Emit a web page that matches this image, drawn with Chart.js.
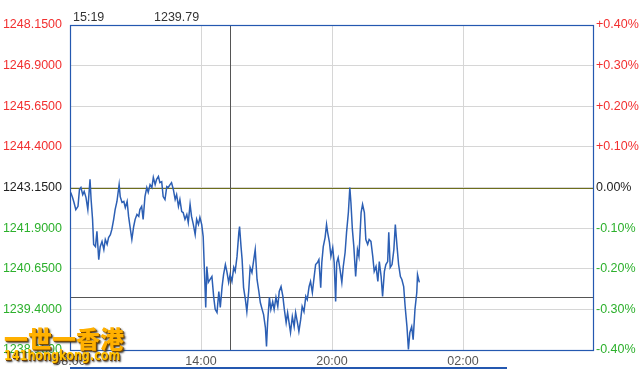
<!DOCTYPE html>
<html>
<head>
<meta charset="utf-8">
<title>Intraday</title>
<script src="https://cdn.jsdelivr.net/npm/chart.js@4.4.1/dist/chart.umd.min.js"></script>
<style>
    body { margin: 0; background: #fff; }
    #wrap { position: relative; width: 642px; height: 370px; overflow: hidden; }
    #chart { display: block; }
    .wm1 {
        position: absolute; left: 4px; top: 324px;
        font: 900 24px "Noto Sans CJK SC", sans-serif; color: #ffb000;
        text-shadow: 1px 1px 0 #7a4a00, 2px 2px 2px #333;
        line-height: 28px;
    }
    .wm2 {
        position: absolute; left: 4px; top: 346px;
        font: bold 14px "DejaVu Sans", sans-serif; color: #ffc000;
        text-shadow: 1px 1px 0 #6a3a00, 2px 2px 2px #333;
        line-height: 18px;
        transform: scaleX(0.8); transform-origin: 0 0;
    }
</style>
</head>
<body>
<div id="wrap">
    <canvas id="chart" width="642" height="370"></canvas>
    <div class="wm1">一世一香港</div>
    <div class="wm2">141hongkong.com</div>
</div>
<script>
// minutes after 08:00, price
const minutes = [
    2, 7, 11, 16, 22, 26, 30, 35, 39, 44, 49, 55, 58, 62, 65, 70, 74, 79, 83, 88,
    93, 97, 102, 106, 111, 115, 120, 124, 129, 135, 138, 143, 148, 152, 157, 161, 166, 170, 175, 179,
    184, 189, 192, 197, 201, 206, 211, 215, 220, 225, 229, 234, 238, 243, 247, 252, 256, 261, 266, 270,
    275, 279, 284, 289, 293, 298, 302, 307, 311, 316, 321, 325, 330, 334, 339, 344, 348, 353, 357, 362,
    366, 369, 371, 373, 376, 380, 385, 390, 395, 399, 404, 409, 413, 418, 422, 427, 431, 436, 440, 445,
    450, 454, 459, 464, 466, 470, 473, 477, 482, 486, 491, 495, 500, 505, 509, 514, 519, 523, 528, 532,
    537, 540, 543, 548, 552, 557, 561, 566, 571, 575, 580, 585, 589, 594, 598, 602, 606, 611, 616, 620,
    625, 629, 634, 638, 643, 648, 652, 657, 661, 666, 671, 675, 680, 684, 689, 692, 696, 701, 705, 708,
    713, 717, 722, 726, 730, 733, 737, 742, 747, 751, 756, 760, 765, 769, 772, 776, 780, 785, 790, 794,
    800, 804, 809, 813, 818, 822, 827, 832, 836, 841, 846, 850, 855, 859, 864, 868, 873, 876, 880, 885,
    890, 894, 899, 903, 908, 912, 917, 921, 926, 930, 934, 939, 943, 948, 953, 955, 960
];

const prices = [
    1243.00, 1242.84, 1242.69, 1242.47, 1242.57, 1243.09, 1243.15, 1242.93, 1243.03, 1242.84,
    1242.47, 1243.40, 1242.78, 1242.17, 1241.40, 1241.33, 1241.80, 1240.93, 1241.33, 1241.49,
    1241.24, 1241.55, 1241.40, 1241.61, 1241.70, 1241.86, 1242.17, 1242.47, 1242.72, 1243.24,
    1242.87, 1242.69, 1242.72, 1242.53, 1242.72, 1242.26, 1241.86, 1241.55, 1241.95, 1242.17,
    1242.32, 1242.26, 1242.47, 1242.57, 1242.17, 1242.87, 1243.15, 1243.00, 1243.24, 1243.15,
    1243.46, 1243.24, 1243.40, 1243.49, 1243.30, 1243.33, 1242.87, 1242.78, 1243.18, 1243.15,
    1243.24, 1243.30, 1243.09, 1242.78, 1242.93, 1242.57, 1242.78, 1242.41, 1242.38, 1242.17,
    1242.32, 1242.07, 1242.63, 1242.26, 1242.01, 1241.70, 1242.17, 1242.01, 1242.23, 1242.01,
    1241.64, 1240.72, 1240.10, 1239.46, 1240.72, 1240.23, 1240.32, 1240.41, 1239.77, 1239.40,
    1239.30, 1239.95, 1239.46, 1240.10, 1240.47, 1240.78, 1240.57, 1240.23, 1240.47, 1240.26,
    1240.69, 1240.57, 1241.03, 1241.77, 1241.95, 1241.33, 1240.93, 1240.07, 1239.70, 1239.33,
    1239.95, 1240.69, 1240.53, 1240.93, 1241.24, 1240.32, 1239.95, 1239.61, 1239.40, 1239.24,
    1238.84, 1238.26, 1238.99, 1239.77, 1239.40, 1239.64, 1239.40, 1239.77, 1239.49, 1239.95,
    1240.10, 1239.80, 1239.40, 1238.99, 1239.30, 1238.99, 1238.69, 1239.18, 1238.87, 1239.30,
    1238.99, 1238.72, 1239.09, 1239.49, 1239.33, 1239.80, 1239.70, 1240.10, 1240.26, 1239.92,
    1240.41, 1240.78, 1240.84, 1240.93, 1240.07, 1240.84, 1241.33, 1241.61, 1242.01, 1241.77,
    1241.46, 1241.03, 1241.30, 1240.84, 1239.64, 1240.84, 1240.99, 1240.63, 1240.23, 1240.72,
    1241.15, 1241.77, 1242.38, 1243.15, 1242.69, 1241.86, 1241.33, 1240.41, 1241.24, 1241.03,
    1242.38, 1242.63, 1242.38, 1241.55, 1241.40, 1241.55, 1241.49, 1241.03, 1240.57, 1240.72,
    1240.26, 1240.87, 1240.41, 1239.80, 1240.57, 1240.78, 1240.87, 1241.77, 1240.69, 1240.78,
    1241.24, 1242.01, 1241.30, 1240.78, 1240.41, 1240.32, 1240.10, 1239.49, 1238.87, 1238.17,
    1238.69, 1238.87, 1238.47, 1239.40, 1239.92, 1240.47, 1240.23
];

const timeTicks  = [0, 360, 720, 1080];
const timeLabels = ['08:00', '14:00', '20:00', '02:00'];

const priceTicks  = [1238.15, 1239.40, 1240.65, 1241.90, 1243.15, 1244.40, 1245.65, 1246.90, 1248.15];
const priceLabels = ['1238.1500', '1239.4000', '1240.6500', '1241.9000', '1243.1500', '1244.4000', '1245.6500', '1246.9000', '1248.1500'];
const pctLabels   = ['-0.40%', '-0.30%', '-0.20%', '-0.10%', '0.00%', '+0.10%', '+0.20%', '+0.30%', '+0.40%'];

const basePrice  = 1243.15;
const crossTime  = 439;
const crossLabel = '15:19';
const crossPrice = 1239.79;

const RED   = '#f23030';
const GREEN = '#2cb02c';
const BLUE  = '#2458b0';

function tickColor(ctx)
{
    const v = ctx.tick.value;
    if (v > basePrice + 0.001) return RED;
    if (v < basePrice - 0.001) return GREEN;
    return '#222';
}

function setPriceTicks(scale)
{
    scale.ticks = priceTicks.map(v => ({ value: v }));
}

const overlay = {
    id: 'overlay',
    beforeDatasetsDraw(chart)
    {
        const { ctx, chartArea: a, scales } = chart;
        const yBase = Math.round(scales.y.getPixelForValue(basePrice)) + 0.5;
        const yCross = Math.round(scales.y.getPixelForValue(crossPrice)) + 0.5;
        const xCross = Math.round(scales.x.getPixelForValue(crossTime)) + 0.5;

        ctx.save();
        ctx.lineWidth = 1;

        ctx.strokeStyle = '#6e6e1c';
        ctx.beginPath();
        ctx.moveTo(a.left, yBase);
        ctx.lineTo(a.right, yBase);
        ctx.stroke();

        ctx.strokeStyle = '#555';
        ctx.beginPath();
        ctx.moveTo(a.left, yCross);
        ctx.lineTo(a.right, yCross);
        ctx.moveTo(xCross, a.top);
        ctx.lineTo(xCross, a.bottom);
        ctx.stroke();
        ctx.restore();
    },
    afterDraw(chart)
    {
        const { ctx, chartArea: a } = chart;

        ctx.save();
        ctx.strokeStyle = BLUE;
        ctx.lineWidth = 1.2;
        ctx.strokeRect(Math.round(a.left) + 0.5, Math.round(a.top) + 0.5, Math.round(a.right - a.left) - 1, Math.round(a.bottom - a.top));

        ctx.fillStyle = BLUE;
        ctx.fillRect(a.left, 367, 437, 2);

        ctx.fillStyle = '#333';
        ctx.font = '12.5px "Liberation Sans", Arial, sans-serif';
        ctx.textBaseline = 'alphabetic';
        ctx.fillText(crossLabel, 73, 21);
        ctx.fillText(crossPrice.toFixed(2), 154, 21);
        ctx.restore();
    }
};

Chart.defaults.font.family = '"Liberation Sans", Arial, sans-serif';
Chart.defaults.font.size = 12.5;

new Chart(document.getElementById('chart').getContext('2d'), {
    type: 'line',
    data: {
        datasets: [{
            data: minutes.map((m, i) => ({ x: m, y: prices[i] })),
            borderColor: '#2c5fb4',
            borderWidth: 1.5,
            pointRadius: 0,
            tension: 0,
            fill: false,
            yAxisID: 'y'
        }]
    },
    plugins: [overlay],
    options: {
        responsive: false,
        animation: false,
        events: [],
        layout: { padding: { top: 25, left: 0, right: 0, bottom: 0 } },
        plugins: {
            legend: { display: false },
            tooltip: { enabled: false }
        },
        scales: {
            x: {
                type: 'linear',
                min: 0,
                max: 1440,
                afterBuildTicks: s => { s.ticks = timeTicks.map(v => ({ value: v })); },
                afterFit: s => { s.height = 20; },
                ticks: {
                    color: '#555',
                    padding: 4,
                    maxRotation: 0,
                    autoSkip: false,
                    callback: (v, i) => timeLabels[i]
                },
                grid: {
                    color: ctx => ctx.tick && ctx.tick.value === 0 ? 'rgba(0,0,0,0)' : '#d6d6d6',
                    drawTicks: false
                },
                border: { display: false }
            },
            y: {
                position: 'left',
                min: 1238.15,
                max: 1248.15,
                afterBuildTicks: setPriceTicks,
                afterFit: s => { s.width = 70; },
                ticks: {
                    color: tickColor,
                    padding: 8,
                    autoSkip: false,
                    callback: (v, i) => priceLabels[i]
                },
                grid: { color: '#d6d6d6', drawTicks: false },
                border: { display: false }
            },
            y2: {
                position: 'right',
                min: 1238.15,
                max: 1248.15,
                afterBuildTicks: setPriceTicks,
                afterFit: s => { s.width = 48; },
                ticks: {
                    color: tickColor,
                    padding: 2,
                    autoSkip: false,
                    callback: (v, i) => pctLabels[i]
                },
                grid: { drawOnChartArea: false, drawTicks: false },
                border: { display: false }
            }
        }
    }
});
</script>
</body>
</html>
